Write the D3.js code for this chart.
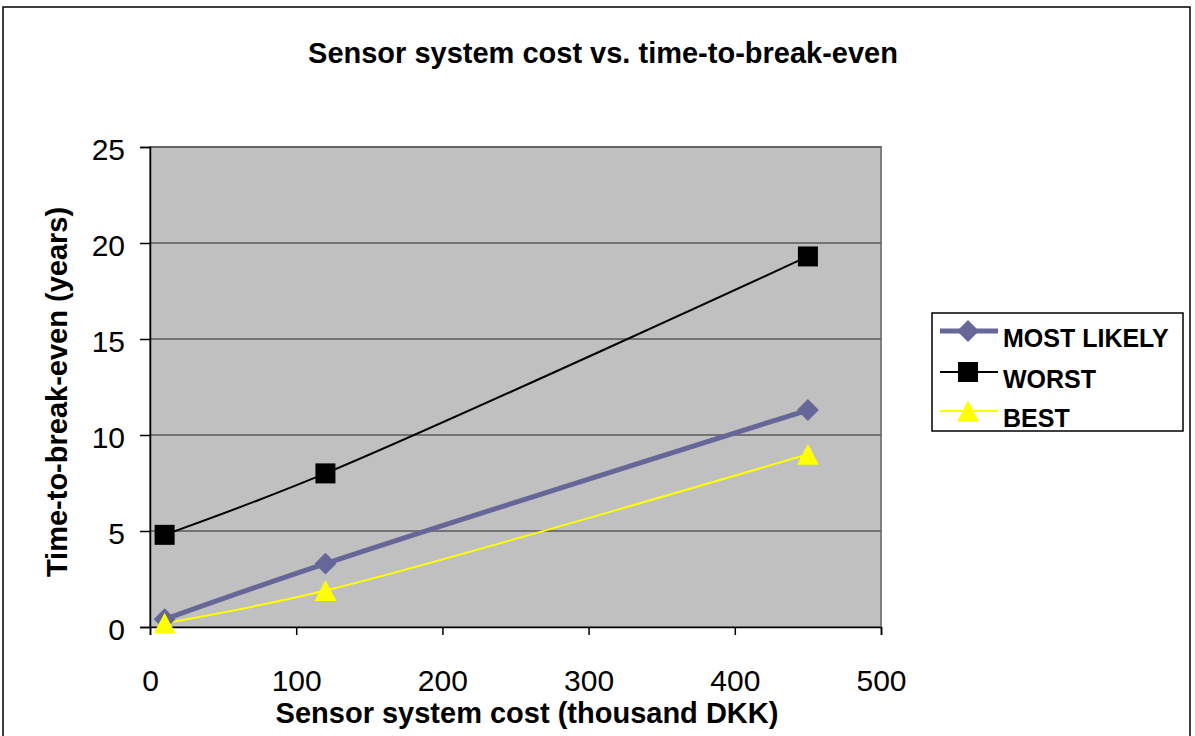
<!DOCTYPE html>
<html>
<head>
<meta charset="utf-8">
<script src="https://cdn.jsdelivr.net/npm/d3@7"></script>
<style>
  body { margin: 0; background: #fff; }
  svg { font-family: "Liberation Sans", Arial, sans-serif; }
</style>
</head>
<body>
<svg width="1195" height="736"></svg>
<script>
// datos del gráfico
const costs = [10, 120, 450];
const mostLikely = [0.4, 3.3, 11.3];
const worst = [4.8, 8.0, 19.3];
const best = [0.2, 1.9, 9.0];
const xTicks = [0, 100, 200, 300, 400, 500];
const yTicks = [0, 5, 10, 15, 20, 25];
const seriesNames = ["MOST LIKELY", "WORST", "BEST"];

const series = [
  { name: seriesNames[0], values: mostLikely, color: "#666699", width: 5, marker: "diamond" },
  { name: seriesNames[1], values: worst, color: "#000000", width: 2, marker: "square" },
  { name: seriesNames[2], values: best, color: "#FFFF00", width: 2, marker: "triangle" }
];

const svg = d3.select("svg");

// marco exterior
svg.append("rect")
  .attr("x", 3).attr("y", 7)
  .attr("width", 1187).attr("height", 740)
  .attr("fill", "none").attr("stroke", "#000").attr("stroke-width", 1.5);

const plotLeft = 150, plotRight = 881, plotTop = 147, plotBottom = 627;

const x = d3.scaleLinear().domain([0, 500]).range([plotLeft, plotRight]);
const y = d3.scaleLinear().domain([0, 25]).range([plotBottom, plotTop]);

// fondo del área del gráfico
svg.append("rect")
  .attr("x", plotLeft).attr("y", plotTop)
  .attr("width", plotRight - plotLeft).attr("height", plotBottom - plotTop)
  .attr("fill", "#C0C0C0")
  .attr("stroke", "#808080").attr("stroke-width", 2);

// líneas de cuadrícula
svg.append("g")
  .selectAll("line")
  .data(yTicks.slice(1))
  .enter().append("line")
  .attr("x1", plotLeft).attr("x2", plotRight)
  .attr("y1", d => y(d)).attr("y2", d => y(d))
  .attr("stroke", "#5a5a5a").attr("stroke-width", 1.5);

// ejes
svg.append("g")
  .attr("transform", "translate(0," + plotBottom + ")")
  .call(d3.axisBottom(x).tickValues(xTicks).tickSize(8).tickPadding(35))
  .call(g => g.select(".domain").attr("stroke", "#000").attr("stroke-width", 1.5))
  .call(g => g.selectAll(".tick line").attr("stroke", "#000").attr("stroke-width", 1.5))
  .call(g => g.selectAll("text").attr("font-size", 30).attr("font-family", "Liberation Sans, Arial, sans-serif").attr("fill", "#000"));

svg.append("g")
  .attr("transform", "translate(" + plotLeft + ",0)")
  .call(d3.axisLeft(y).tickValues(yTicks).tickSize(10).tickPadding(15))
  .call(g => g.select(".domain").attr("stroke", "#000").attr("stroke-width", 1.5))
  .call(g => g.selectAll(".tick line").attr("stroke", "#000").attr("stroke-width", 1.5))
  .call(g => g.selectAll("text").attr("font-size", 30).attr("dy", "0.42em").attr("font-family", "Liberation Sans, Arial, sans-serif").attr("fill", "#000"));

// títulos
svg.append("text")
  .attr("x", 603).attr("y", 63)
  .attr("text-anchor", "middle")
  .attr("font-size", 29).attr("font-weight", "bold")
  .text("Sensor system cost vs. time-to-break-even");

svg.append("text")
  .attr("x", 527).attr("y", 723)
  .attr("text-anchor", "middle")
  .attr("font-size", 29).attr("font-weight", "bold")
  .text("Sensor system cost (thousand DKK)");

svg.append("text")
  .attr("transform", "translate(67,392) rotate(-90)")
  .attr("text-anchor", "middle")
  .attr("font-size", 29).attr("font-weight", "bold")
  .text("Time-to-break-even (years)");

// líneas suavizadas
const line = d3.line()
  .x((d, i) => x(costs[i]))
  .y(d => y(d))
  .curve(d3.curveCatmullRom.alpha(0.5));

// triángulo de Excel (base 22, alto 21)
const excelTriangle = {
  draw(ctx, size) {
    const w = Math.sqrt(size) / 2, h = w * 0.95;
    ctx.moveTo(0, -h);
    ctx.lineTo(w, h);
    ctx.lineTo(-w, h);
    ctx.closePath();
  }
};

function markerPath(type) {
  if (type === "diamond") return d3.symbol().type(d3.symbolSquare).size(240)();
  if (type === "square") return d3.symbol().type(d3.symbolSquare).size(400)();
  return d3.symbol().type(excelTriangle).size(484)();
}

series.forEach(s => {
  svg.append("path")
    .datum(s.values)
    .attr("fill", "none")
    .attr("stroke", s.color)
    .attr("stroke-width", s.width)
    .attr("d", line);
});

series.forEach(s => {
  svg.append("g")
    .selectAll("path")
    .data(s.values)
    .enter().append("path")
    .attr("transform", (d, i) => "translate(" + x(costs[i]) + "," + y(d) + ")" + (s.marker === "diamond" ? " rotate(45)" : ""))
    .attr("d", markerPath(s.marker))
    .attr("fill", s.color);
});

// leyenda
const legend = svg.append("g").attr("transform", "translate(932,313)");
legend.append("rect")
  .attr("width", 251).attr("height", 118)
  .attr("fill", "#fff").attr("stroke", "#000").attr("stroke-width", 1.5);

const legendLineY = [18, 59, 98];
series.forEach((s, i) => {
  const ly = legendLineY[i];
  legend.append("line")
    .attr("x1", 8).attr("x2", 66)
    .attr("y1", ly).attr("y2", ly)
    .attr("stroke", s.color).attr("stroke-width", s.width);
  legend.append("path")
    .attr("transform", "translate(36," + ly + ")" + (s.marker === "diamond" ? " rotate(45)" : ""))
    .attr("d", markerPath(s.marker))
    .attr("fill", s.color);
  legend.append("text")
    .attr("x", 71).attr("y", ly + 16)
    .attr("font-size", 25).attr("font-weight", "bold")
    .text(s.name);
});
</script>
</body>
</html>
